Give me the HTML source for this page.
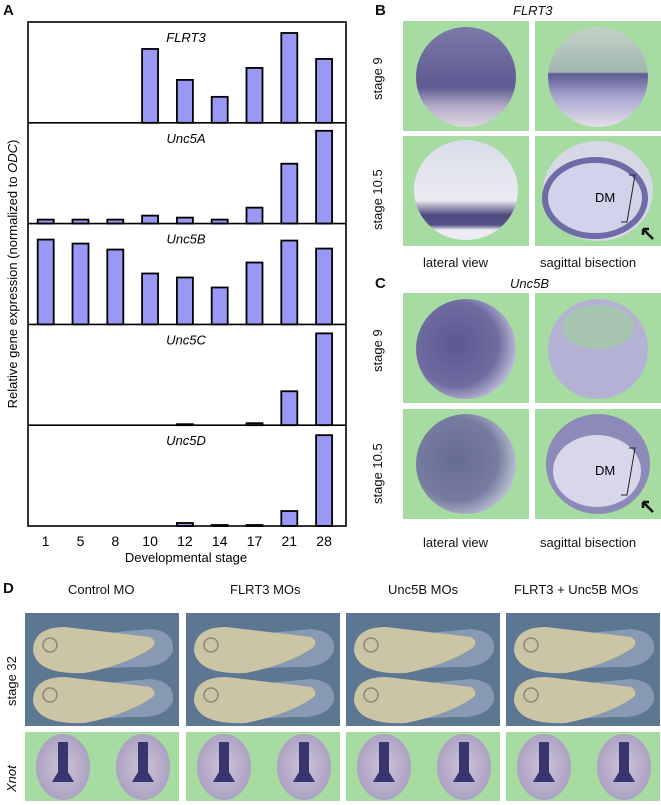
<!DOCTYPE html>
<html><head><meta charset="utf-8">
<style>
body{margin:0;background:#fff;font-family:"Liberation Sans",sans-serif;}
#root{position:relative;width:661px;height:805px;overflow:hidden;}
.t{position:absolute;color:#111;white-space:nowrap;}
.ph{position:absolute;background:#a6dba2;overflow:hidden;}
.ph svg{display:block}
.blue{background:#5d7691;}
</style></head>
<body><div id="root">
<div class="t" style="left:3px;top:2px;font-weight:bold;font-size:15px">A</div>
<svg id="chart" width="661" height="580" style="position:absolute;left:0;top:0"></svg>

<div class="t" style="left:375px;top:2px;font-weight:bold;font-size:15px">B</div>
<div class="t" style="left:513px;top:3px;font-style:italic;font-size:13px">FLRT3</div>
<div class="t" style="left:375px;top:275px;font-weight:bold;font-size:15px">C</div>
<div class="t" style="left:510px;top:276px;font-style:italic;font-size:13px">Unc5B</div>
<div class="t" style="left:423px;top:255px;font-size:13px">lateral view</div>
<div class="t" style="left:540px;top:255px;font-size:13px">sagittal bisection</div>
<div class="t" style="left:423px;top:535px;font-size:13px">lateral view</div>
<div class="t" style="left:540px;top:535px;font-size:13px">sagittal bisection</div>
<div class="t" style="left:370px;top:100px;font-size:13px;transform:rotate(-90deg);transform-origin:left top">stage 9</div>
<div class="t" style="left:370px;top:230px;font-size:13px;transform:rotate(-90deg);transform-origin:left top">stage 10.5</div>
<div class="t" style="left:370px;top:372px;font-size:13px;transform:rotate(-90deg);transform-origin:left top">stage 9</div>
<div class="t" style="left:370px;top:504px;font-size:13px;transform:rotate(-90deg);transform-origin:left top">stage 10.5</div>

<div id="embryos"></div>

<div class="t" style="left:3px;top:580px;font-weight:bold;font-size:15px">D</div>
<div class="t" style="left:68px;top:582px;font-size:13px">Control MO</div>
<div class="t" style="left:230px;top:582px;font-size:13px">FLRT3 MOs</div>
<div class="t" style="left:388px;top:582px;font-size:13px">Unc5B MOs</div>
<div class="t" style="left:514px;top:582px;font-size:13px">FLRT3 + Unc5B MOs</div>
<div class="t" style="left:4px;top:706px;font-size:13px;transform:rotate(-90deg);transform-origin:left top">stage 32</div>
<div class="t" style="left:4px;top:792px;font-size:13px;font-style:italic;transform:rotate(-90deg);transform-origin:left top">Xnot</div>
</div>
<script>
const stages=["1","5","8","10","12","14","17","21","28"];
const genes=["FLRT3","Unc5A","Unc5B","Unc5C","Unc5D"];
const flrt3=[0,0,0,74,43,26,55,90,64];
const unc5a=[4,4,4,8,6,4,16,60,93];
const unc5b=[85,81,75,51,47,37,62,84,76];
const unc5c=[0,0,0,0,1,0,2,34,92];
const unc5d=[0,0,0,0,3,1,1,15,91];
const series=[flrt3,unc5a,unc5b,unc5c,unc5d];
const NS="http://www.w3.org/2000/svg";
const svg=document.getElementById('chart');
const L=28,R=346,T=22,PH=100.8,MAXV=101;
const xPos=i=>45.7+i*34.8;
const yScale=(p,v)=>T+PH*(p+1)-v*PH/MAXV;
function mk(tag,a){const e=document.createElementNS(NS,tag);for(const k in a)e.setAttribute(k,a[k]);svg.appendChild(e);return e;}
series.forEach((vals,p)=>{
  vals.forEach((v,i)=>{
    if(v<=0)return;
    const y=yScale(p,v),b=yScale(p,0);
    const r=mk('rect',{x:xPos(i)-8,y:y,width:16,height:b-y,fill:'#9999f5',stroke:'#000','stroke-width':1.8});
    
    
  });
  const t=mk('text',{x:186,y:T+PH*p+20,'font-size':13,'font-style':'italic','text-anchor':'middle','font-family':'Liberation Sans'});
  t.textContent=genes[p];
  
  
  if(p<4){const l=mk('line',{x1:L,x2:R,y1:T+PH*(p+1),y2:T+PH*(p+1),stroke:'#000','stroke-width':1.6});
  
  }
});
const box=mk('rect',{x:L,y:T,width:R-L,height:PH*5,fill:'none',stroke:'#000','stroke-width':1.6});


stages.forEach((s,i)=>{const t=mk('text',{x:xPos(i),y:546,'font-size':14,'text-anchor':'middle','font-family':'Liberation Sans'});t.textContent=s;

});
const xt=mk('text',{x:186,y:562,'font-size':13,'text-anchor':'middle','font-family':'Liberation Sans'});xt.textContent='Developmental stage';


const yt=mk('text',{x:0,y:0,'font-size':13,'text-anchor':'middle','font-family':'Liberation Sans',transform:'translate(17,274) rotate(-90)'});
yt.innerHTML='Relative gene expression (normalized to <tspan font-style="italic">ODC</tspan>)';



const host=document.getElementById('embryos');
function photo(x,y,w,h,inner,name,cls){
  const d=document.createElement('div');d.className='ph '+(cls||'');
  d.style.cssText=`left:${x}px;top:${y}px;width:${w}px;height:${h}px`;
  
  
  d.innerHTML=`<svg width="${w}" height="${h}">${inner}</svg>`;host.appendChild(d);
}
const defs=`<defs>
<linearGradient id="g9" x1="0" y1="0" x2="0" y2="1"><stop offset="0" stop-color="#7c7aa8"/><stop offset="0.6" stop-color="#5e5a92"/><stop offset="0.8" stop-color="#b6aec8"/><stop offset="1" stop-color="#ddd6e0"/></linearGradient>
<linearGradient id="gs" x1="0" y1="0" x2="0" y2="1"><stop offset="0" stop-color="#c3d2c8"/><stop offset="0.45" stop-color="#a2b6b0"/><stop offset="0.47" stop-color="#5f5c94"/><stop offset="0.7" stop-color="#a8a6d0"/><stop offset="1" stop-color="#e4e0ea"/></linearGradient>
<linearGradient id="g10" x1="0" y1="0" x2="0" y2="1"><stop offset="0" stop-color="#d8dce8"/><stop offset="0.6" stop-color="#ecebf2"/><stop offset="0.75" stop-color="#4e4a80"/><stop offset="0.85" stop-color="#55528a"/><stop offset="0.9" stop-color="#ececf2"/></linearGradient>
<radialGradient id="gu" cx="0.4" cy="0.45" r="0.6"><stop offset="0" stop-color="#5a5890"/><stop offset="0.7" stop-color="#6e6ca0"/><stop offset="1" stop-color="#b8b6d4"/></radialGradient>
<radialGradient id="gx" cx="0.5" cy="0.5" r="0.55"><stop offset="0" stop-color="#d0c4d8"/><stop offset="1" stop-color="#a89ec0"/></radialGradient>
</defs>`;
const W1=126,H1=110;
photo(403,21,W1,H1,defs+`<ellipse cx="63" cy="56" rx="50" ry="50" fill="url(#g9)"/>`,'flrt3-stage9-lateral');
photo(535,21,W1,H1,defs+`<ellipse cx="63" cy="56" rx="50" ry="50" fill="url(#gs)"/>`,'flrt3-stage9-sagittal');
photo(403,136,W1,H1,defs+`<ellipse cx="63" cy="54" rx="52" ry="50" fill="url(#g10)"/>`,'flrt3-stage105-lateral');
photo(535,136,W1,H1,defs+`<ellipse cx="63" cy="55" rx="55" ry="50" fill="#d6d8e6"/><ellipse cx="60" cy="62" rx="50" ry="38" fill="#d2d2ea" stroke="#6e6ca6" stroke-width="6"/><text x="60" y="66" font-size="13" font-family="Liberation Sans">DM</text><path d="M94 39 L100 39 L92 86 L86 86" fill="none" stroke="#222"/><path d="M118 103 L108 93 M108 93 l6 0 M108 93 l0 6" stroke="#111" stroke-width="2.5"/>`,'flrt3-stage105-sagittal');
photo(403,293,W1,H1,defs+`<ellipse cx="63" cy="56" rx="50" ry="50" fill="url(#gu)"/>`,'unc5b-stage9-lateral');
photo(535,293,W1,H1,defs+`<ellipse cx="63" cy="56" rx="50" ry="50" fill="#b4b2d4"/><ellipse cx="63" cy="34" rx="36" ry="22" fill="#a6c4b0"/>`,'unc5b-stage9-sagittal');
photo(403,409,W1,H1,defs+`<ellipse cx="63" cy="55" rx="50" ry="50" fill="url(#gu)" opacity="0.85"/>`,'unc5b-stage105-lateral');
photo(535,409,W1,H1,defs+`<ellipse cx="63" cy="55" rx="52" ry="50" fill="#8c8ab8"/><ellipse cx="62" cy="62" rx="44" ry="36" fill="#d8d6ea"/><text x="60" y="66" font-size="13" font-family="Liberation Sans">DM</text><path d="M94 39 L100 39 L92 86 L86 86" fill="none" stroke="#222"/><path d="M118 103 L108 93 M108 93 l6 0 M108 93 l0 6" stroke="#111" stroke-width="2.5"/>`,'unc5b-stage105-sagittal');
const xs=[25,186,346,506],names=['control','flrt3','unc5b','combined'];
xs.forEach((x,i)=>{
  const tad=(y)=>`<path d="M60 ${y-16} L125 ${y-22} Q150 ${y-20} 148 ${y} Q140 ${y+18} 110 ${y+16} L60 ${y+18} Z" fill="#a9b8cc" opacity="0.55"/><path d="M8 ${y} Q8 ${y-24} 40 ${y-24} L125 ${y-14} Q134 ${y-8} 125 ${y-2} Q100 ${y+14} 60 ${y+22} Q12 ${y+24} 8 ${y} Z" fill="#cbc5a5"/><circle cx="25" cy="${y-6}" r="7" fill="none" stroke="#8c8878" stroke-width="1.5"/>`;
  photo(x,613,154,113,tad(38)+tad(88),'tadpole-photo-'+names[i],'blue');
  const emb=(cx)=>`<ellipse cx="${cx}" cy="35" rx="27" ry="33" fill="url(#gx)"/><path d="M${cx-5} 10 h10 v30 l6 10 h-22 l6 -10 Z" fill="#39356e"/>`;
  photo(x,732,154,69,defs+emb(38)+emb(118),'xnot-photo-'+names[i]);
});
</script>
</body></html>
